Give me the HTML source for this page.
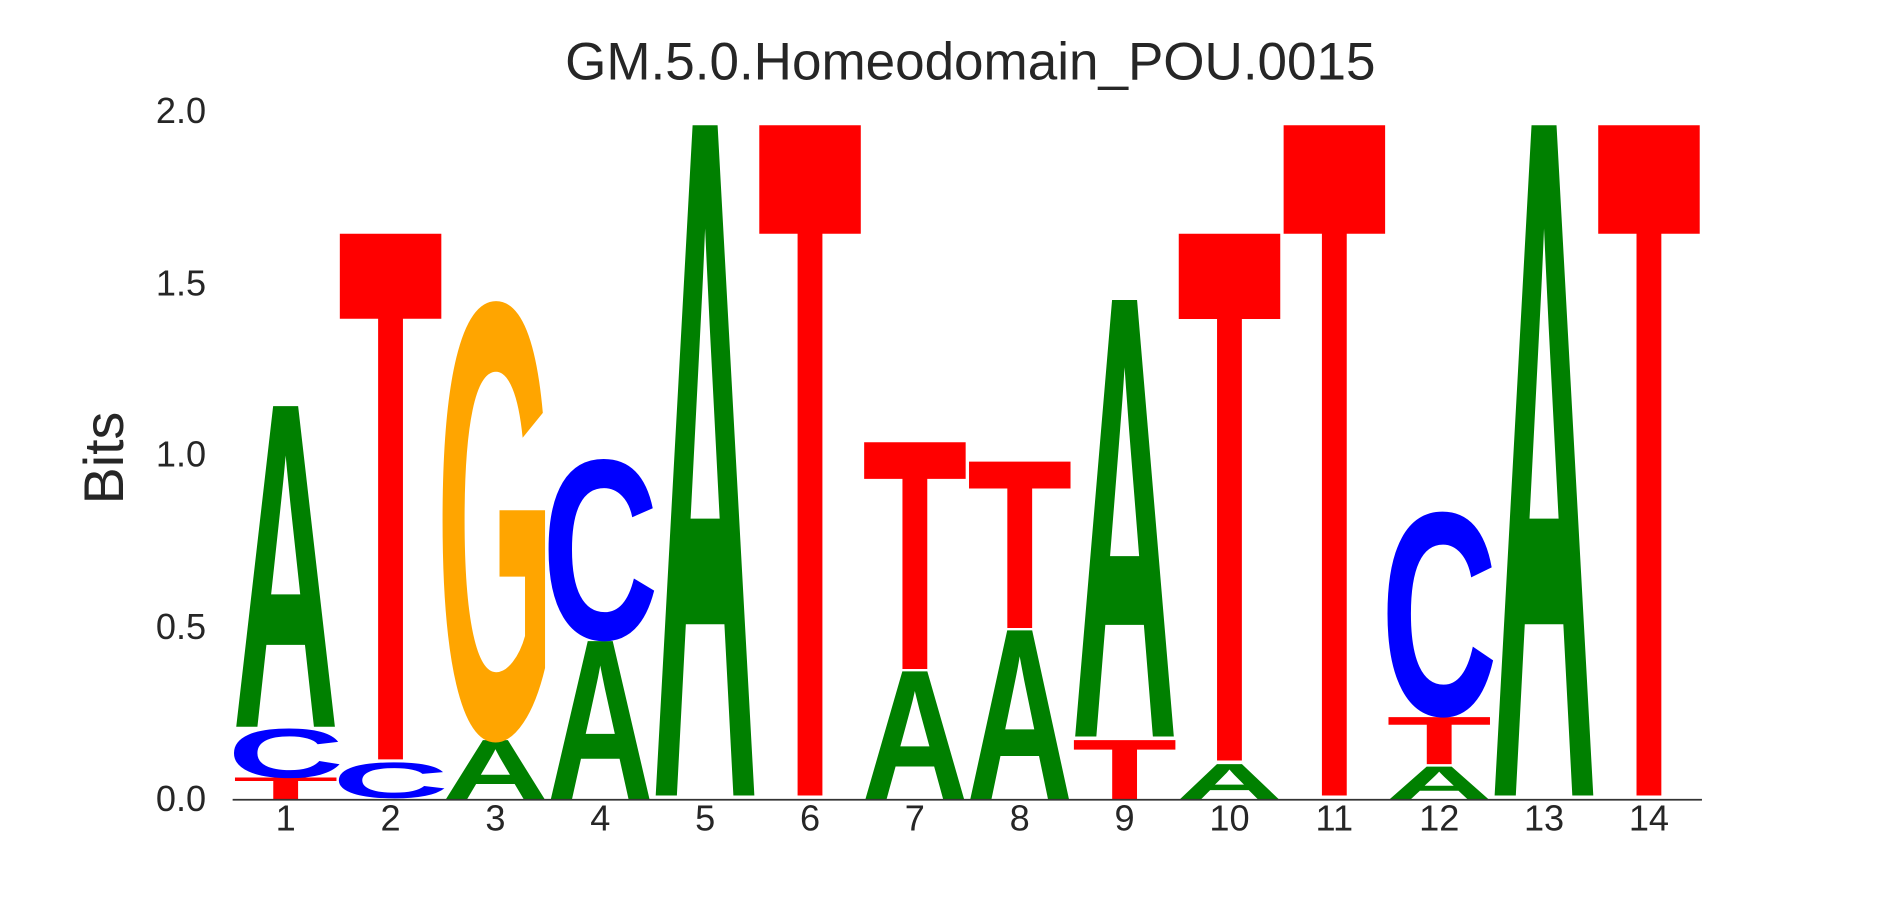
<!DOCTYPE html>
<html><head><meta charset="utf-8"><style>
html,body{margin:0;padding:0;background:#fff;overflow:hidden;width:1890px;height:900px;position:relative;}
svg{display:block;position:absolute;left:0;top:0;}
text{font-family:"Liberation Sans",Arial,sans-serif;}
.L{font-weight:bold;font-size:100px;text-anchor:middle;}
.tk{font-size:30px;fill:#262626;}
</style></head><body>
<svg width="1890" height="900" viewBox="0 0 1568 746.7" preserveAspectRatio="none" overflow="hidden" xmlns="http://www.w3.org/2000/svg">
<rect width="1568" height="746.7" fill="#fff"/>
<text x="805" y="66" font-size="44" text-anchor="middle" fill="#262626">GM.5.0.Homeodomain_POU.0015</text>
<text transform="translate(102,380) rotate(-90)" font-size="46" text-anchor="middle" fill="#262626">Bits</text>
<g class="tk" text-anchor="end">
<text x="171" y="673">0.0</text>
<text x="171" y="530">0.5</text>
<text x="171" y="387">1.0</text>
<text x="171" y="245">1.5</text>
<text x="171" y="102">2.0</text>
</g>
<g class="tk" text-anchor="middle" font-size="28">
<text x="237" y="689">1</text><text x="324" y="689">2</text><text x="411" y="689">3</text><text x="498" y="689">4</text>
<text x="585" y="689">5</text><text x="672" y="689">6</text><text x="759" y="689">7</text><text x="846" y="689">8</text>
<text x="933" y="689">9</text><text x="1020" y="689">10</text><text x="1107" y="689">11</text><text x="1194" y="689">12</text>
<text x="1281" y="689">13</text><text x="1368" y="689">14</text>
</g>
<g class="L">
<text transform="translate(237,663) scale(1.43,0.261)" fill="#ff0000">T</text>
<text transform="translate(237,645) scale(1.34,0.582)" fill="#0000ff">C</text>
<text transform="translate(237,603) scale(1.22,3.867)" fill="#008000">A</text>
<text transform="translate(324,662) scale(1.34,0.422)" fill="#0000ff">C</text>
<text transform="translate(324,630) scale(1.43,6.339)" fill="#ff0000">T</text>
<text transform="translate(411,663) scale(1.22,0.712)" fill="#008000">A</text>
<text transform="translate(411,611) scale(1.26,5.173)" fill="#ffa500">G</text>
<text transform="translate(498,663) scale(1.22,1.905)" fill="#008000">A</text>
<text transform="translate(498,530) scale(1.34,2.137)" fill="#0000ff">C</text>
<text transform="translate(585,660) scale(1.22,8.083)" fill="#008000">A</text>
<text transform="translate(672,660) scale(1.43,8.083)" fill="#ff0000">T</text>
<text transform="translate(759,663) scale(1.22,1.541)" fill="#008000">A</text>
<text transform="translate(759,555) scale(1.43,2.734)" fill="#ff0000">T</text>
<text transform="translate(846,663) scale(1.22,2.035)" fill="#008000">A</text>
<text transform="translate(846,521) scale(1.43,2.006)" fill="#ff0000">T</text>
<text transform="translate(933,663) scale(1.43,0.712)" fill="#ff0000">T</text>
<text transform="translate(933,611) scale(1.22,5.263)" fill="#008000">A</text>
<text transform="translate(1020,663) scale(1.22,0.422)" fill="#008000">A</text>
<text transform="translate(1020,631) scale(1.43,6.353)" fill="#ff0000">T</text>
<text transform="translate(1107,660) scale(1.43,8.083)" fill="#ff0000">T</text>
<text transform="translate(1194,663) scale(1.22,0.392)" fill="#008000">A</text>
<text transform="translate(1194,634) scale(1.43,0.567)" fill="#ff0000">T</text>
<text transform="translate(1194,593) scale(1.34,2.413)" fill="#0000ff">C</text>
<text transform="translate(1281,660) scale(1.22,8.083)" fill="#008000">A</text>
<text transform="translate(1368,660) scale(1.43,8.083)" fill="#ff0000">T</text>
</g>
<line x1="193" y1="663.5" x2="1412" y2="663.5" stroke="#333" stroke-width="1.5"/>
</svg>
</body></html>
